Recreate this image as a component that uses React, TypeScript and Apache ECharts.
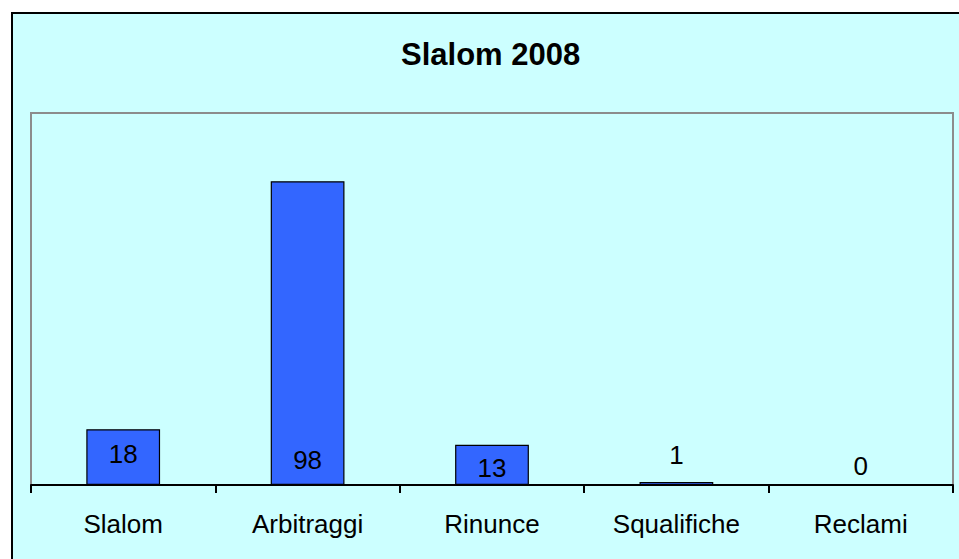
import React, { useEffect, useRef } from "react";
import * as echarts from "echarts";

const titleText = "Slalom 2008";
const categories = ["Slalom", "Arbitraggi", "Rinunce", "Squalifiche", "Reclami"];
const values = [18, 98, 13, 1, 0];
// vertical nudges of each data label (as in the source, labels were placed by hand)
const labelOffsets = [-13, -7, 1, -12, -2];

const FONT = "Arial, 'Liberation Sans', sans-serif";

export default function App() {
  const ref = useRef<HTMLDivElement>(null);

  useEffect(() => {
    document.body.style.margin = "0";
    const chart = echarts.init(ref.current!, null, { renderer: "svg" });
    chart.setOption({
      animation: false,
      backgroundColor: "#ffffff",
      graphic: [
        {
          type: "rect",
          z: -10,
          silent: true,
          shape: { x: 12, y: 13, width: 960, height: 560 },
          style: { fill: "#CCFFFF", stroke: "#000000", lineWidth: 2 },
        },
      ],
      title: {
        text: titleText,
        left: 401,
        top: 39,
        padding: 0,
        textStyle: {
          fontFamily: FONT,
          fontSize: 31,
          fontWeight: "bold",
          color: "#000000",
        },
      },
      grid: {
        left: 31,
        top: 113,
        right: 6,
        bottom: 74,
        show: true,
        backgroundColor: "transparent",
        borderColor: "#8c8c8c",
        borderWidth: 2,
        containLabel: false,
      },
      xAxis: {
        type: "category",
        data: categories,
        axisLine: { show: true, lineStyle: { color: "#000000", width: 2 } },
        axisTick: { show: true, length: 8, lineStyle: { color: "#000000", width: 2 } },
        axisLabel: {
          margin: 26,
          fontFamily: FONT,
          fontSize: 26,
          color: "#000000",
        },
        splitLine: { show: false },
      },
      yAxis: {
        type: "value",
        min: 0,
        max: 120,
        show: false,
        splitLine: { show: false },
      },
      series: [
        {
          type: "bar",
          barWidth: "40%",
          data: values.map((v, i) => ({
            value: v,
            label: { offset: [0, labelOffsets[i]] },
          })),
          itemStyle: {
            color: "#3366FF",
            borderColor: "#000000",
            borderWidth: 1.2,
          },
          label: {
            show: true,
            position: "insideBottom",
            distance: 5,
            fontFamily: FONT,
            fontSize: 26,
            color: "#000000",
          },
        },
      ],
    });
    return () => chart.dispose();
  }, []);

  return (
    <div
      ref={ref}
      style={{ position: "fixed", left: 0, top: 0, width: 959, height: 559 }}
    />
  );
}
